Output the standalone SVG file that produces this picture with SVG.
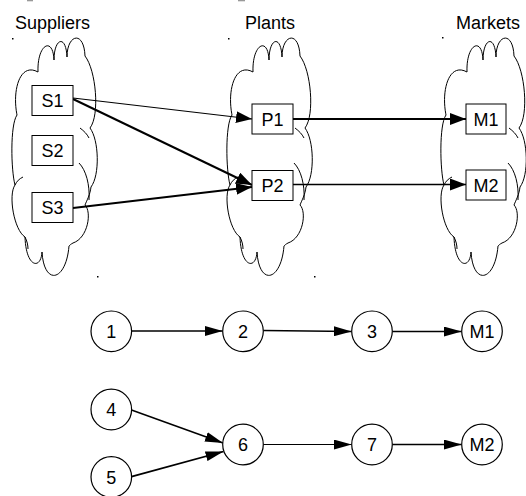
<svg xmlns="http://www.w3.org/2000/svg" xmlns:xlink="http://www.w3.org/1999/xlink" width="526" height="496" viewBox="0 0 526 496">
<style>
  .cloud { fill: none; stroke: #000; stroke-width: 1; }
  .box { fill: #fff; stroke: #000; stroke-width: 1; }
  .circ { fill: #fff; stroke: #000; stroke-width: 1.2; }
  .lbl { font-family: "Liberation Sans", Arial, sans-serif; font-size: 18px; fill: #000; text-anchor: middle; }
  .hdr { font-family: "Liberation Sans", Arial, sans-serif; font-size: 18px; fill: #000; }
  .edge { fill: none; stroke: #000; }
  .dot { fill: #000; }
</style>
<defs>
  <marker id="arrT" markerUnits="userSpaceOnUse" markerWidth="16" markerHeight="12" refX="16" refY="6" orient="auto">
    <path d="M0,0 L16,6 L0,12 Z" fill="#000"/>
  </marker>
  <marker id="arrB" markerUnits="userSpaceOnUse" markerWidth="18" markerHeight="10" refX="18" refY="5" orient="auto">
    <path d="M0,0 L18,5 L0,10 Z" fill="#000"/>
  </marker>
  <g id="cloudShape">
    <path class="cloud" d="M38,72 C37,44 53,36 54,60 C54,38 66,34 67,57 C67,34 84,30 85,56 C96,70 100,115 90,128 C99,140 100,175 91,187 C90,195 87,200 85,205 C92,212 88,238 73,243 C71,244 70,245 69,246 C66,282 44,286 42,252 C41,270 26,268 25,237 C14,230 8,195 15,185 C11,170 10,125 17,115 C12,90 20,62 38,72 Z"/>
    <path class="cloud" d="M79,163 C86,170 90,185 89,200"/>
    <path class="cloud" d="M80,128 C84,131 87,134 89,138"/>
    <path class="cloud" d="M15,185 C17,181 19,179 23,177"/>
    <path class="cloud" d="M25,237 C27,241 28,245 28,249"/>
  </g>
</defs>
<rect width="526" height="496" fill="#fff"/>

<g id="artifacts">
  <rect x="27" y="0" width="6" height="1.3" fill="#999"/>
  <rect x="238" y="0" width="7" height="1.3" fill="#999"/>
  <rect class="dot" x="12" y="38" width="1.5" height="1.5"/>
  <rect class="dot" x="228" y="38" width="1.5" height="1.5"/>
  <rect class="dot" x="442" y="37" width="1.5" height="1.5"/>
  <rect class="dot" x="97" y="276" width="1.5" height="1.5"/>
  <rect class="dot" x="314" y="276" width="1.5" height="1.5"/>
</g>

<g id="headers">
  <text class="hdr" x="15" y="29">Suppliers</text>
  <text class="hdr" x="245" y="29">Plants</text>
  <text class="hdr" x="456" y="29">Markets</text>
</g>

<g id="cloud-suppliers"><use xlink:href="#cloudShape" href="#cloudShape"/></g>
<g id="cloud-plants"><use xlink:href="#cloudShape" href="#cloudShape" transform="translate(215,0)"/></g>
<g id="cloud-markets"><use xlink:href="#cloudShape" href="#cloudShape" transform="translate(429,0)"/></g>

<g id="connectors">
  <path class="edge" d="M73,98 L252,119" stroke-width="1.2" marker-end="url(#arrT)"/>
  <path class="edge" d="M73,99 L252,185" stroke-width="2" marker-end="url(#arrT)"/>
  <path class="edge" d="M73,208 L252,187" stroke-width="1.8" marker-end="url(#arrT)"/>
  <path class="edge" d="M293,119 L466,119" stroke-width="2" marker-end="url(#arrT)"/>
  <path class="edge" d="M293,184.5 L466,184.5" stroke-width="1.5" marker-end="url(#arrT)"/>

  <path class="edge" d="M131.5,331 L222.7,331" stroke-width="1.5" marker-end="url(#arrB)"/>
  <path class="edge" d="M263.3,330.5 L351.7,331.5" stroke-width="1.5" marker-end="url(#arrB)"/>
  <path class="edge" d="M392.3,331.5 L461.7,331.5" stroke-width="1.5" marker-end="url(#arrB)"/>
  <path class="edge" d="M131.5,410 L223,443" stroke-width="1.5" marker-end="url(#arrB)"/>
  <path class="edge" d="M131.5,476.7 L223.5,451.5" stroke-width="1.8" marker-end="url(#arrB)"/>
  <path class="edge" d="M263.3,444.5 L351.7,444.5" stroke-width="1" marker-end="url(#arrB)"/>
  <path class="edge" d="M392.3,444.5 L461.7,444.5" stroke-width="1.5" marker-end="url(#arrB)"/>
</g>

<g id="S1"><rect class="box" x="32" y="85.5" width="41" height="30"/><text class="lbl" x="52.5" y="107">S1</text></g>
<g id="S2"><rect class="box" x="32" y="135.5" width="41" height="30"/><text class="lbl" x="52.5" y="157">S2</text></g>
<g id="S3"><rect class="box" x="32" y="192.5" width="41" height="30"/><text class="lbl" x="52.5" y="214">S3</text></g>
<g id="P1"><rect class="box" x="252" y="104" width="41" height="30"/><text class="lbl" x="272.5" y="125.5">P1</text></g>
<g id="P2"><rect class="box" x="252" y="170.5" width="41" height="30"/><text class="lbl" x="272.5" y="192">P2</text></g>
<g id="M1"><rect class="box" x="466" y="104" width="40" height="30"/><text class="lbl" x="486" y="125.5">M1</text></g>
<g id="M2"><rect class="box" x="466" y="170" width="40" height="30"/><text class="lbl" x="486" y="191.5">M2</text></g>

<g id="n1"><circle class="circ" cx="111.3" cy="331.3" r="20.3"/><text class="lbl" x="111.3" y="337.8">1</text></g>
<g id="n2"><circle class="circ" cx="243" cy="331.3" r="20.3"/><text class="lbl" x="243" y="337.8">2</text></g>
<g id="n3"><circle class="circ" cx="372" cy="331.3" r="20.3"/><text class="lbl" x="372" y="337.8">3</text></g>
<g id="nM1"><circle class="circ" cx="482" cy="331.3" r="20.3"/><text class="lbl" x="482" y="337.8">M1</text></g>
<g id="n4"><circle class="circ" cx="111.3" cy="409.5" r="20.3"/><text class="lbl" x="111.3" y="416">4</text></g>
<g id="n5"><circle class="circ" cx="111.3" cy="477" r="20.3"/><text class="lbl" x="111.3" y="483.5">5</text></g>
<g id="n6"><circle class="circ" cx="243" cy="444.5" r="20.3"/><text class="lbl" x="243" y="451">6</text></g>
<g id="n7"><circle class="circ" cx="372" cy="444.5" r="20.3"/><text class="lbl" x="372" y="451">7</text></g>
<g id="nM2"><circle class="circ" cx="482" cy="444.5" r="20.3"/><text class="lbl" x="482" y="451">M2</text></g>
</svg>
